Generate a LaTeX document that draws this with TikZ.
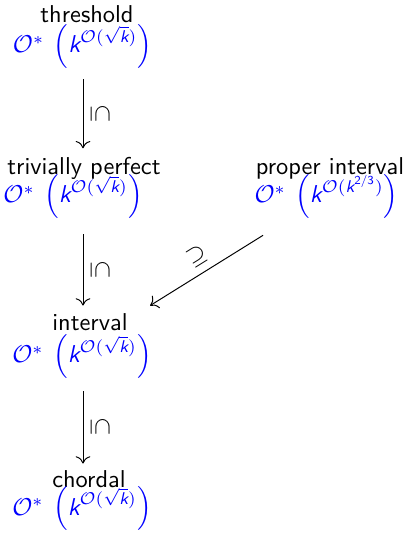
\documentclass[tikz,border=0pt]{standalone}
\usepackage{amsmath}
\usetikzlibrary{arrows.meta,calc}
\newcommand\kk{\text{\sffamily\itshape k}}
\newcommand\cplx[1]{\(\mathcal{O}^*\mskip7mu\Bigl(\kk^{\mathcal{O}(#1)}\Bigr)\)}
\begin{document}
\begin{tikzpicture}[x=0.41pt,y=-0.41pt,
  lab/.style={font=\sffamily, inner sep=0pt, anchor=base},
  cx/.style={text=blue, inner sep=0pt, anchor=base},
  arr/.style={-{To[length=3pt,width=6pt]}, line width=0.4pt},
  rel/.style={midway, sloped, above, inner sep=3pt}]
\useasboundingbox (0,0) rectangle (406,540);
\node[lab] (t) at (87,23) {threshold};
\node[cx] (tf) at (82.5,53) {\cplx{\sqrt{\kk}}};
\node[lab] (tp) at (84,175) {trivially perfect};
\node[cx] (tpf) at (73,203) {\cplx{\sqrt{\kk}}};
\node[lab] (pi) at (330,175) {proper interval};
\node[cx] (pif) at (326.5,203) {\cplx{\kk^{\text{\sffamily 2/3}}}};
\node[lab] (iv) at (90,331) {interval};
\node[cx] (ivf) at (82,363) {\cplx{\sqrt{\kk}}};
\node[lab] (ch) at (89,487) {chordal};
\node[cx] (chf) at (82,515) {\cplx{\sqrt{\kk}}};
\draw[arr] ($(tf.south)+(0.5,10)$) -- ($(tf.south |- tp.north)+(0.5,-9)$) node[rel] {$\subseteq$};
\draw[arr] ($(ivf.north |- tpf.south)+(1,15)$) -- ($(ivf.north |- iv.north)+(1,-8)$) node[rel] {$\subseteq$};
\draw[arr] ($(ivf.south)+(1,12)$) -- ($(ivf.south |- ch.north)+(1,-6)$) node[rel] {$\subseteq$};
\draw[arr] ($(pif.south)+(-63.5,16)$) -- ($(iv.north east)+(22,-8)$) node[rel] {$\supseteq$};
\end{tikzpicture}
\end{document}
